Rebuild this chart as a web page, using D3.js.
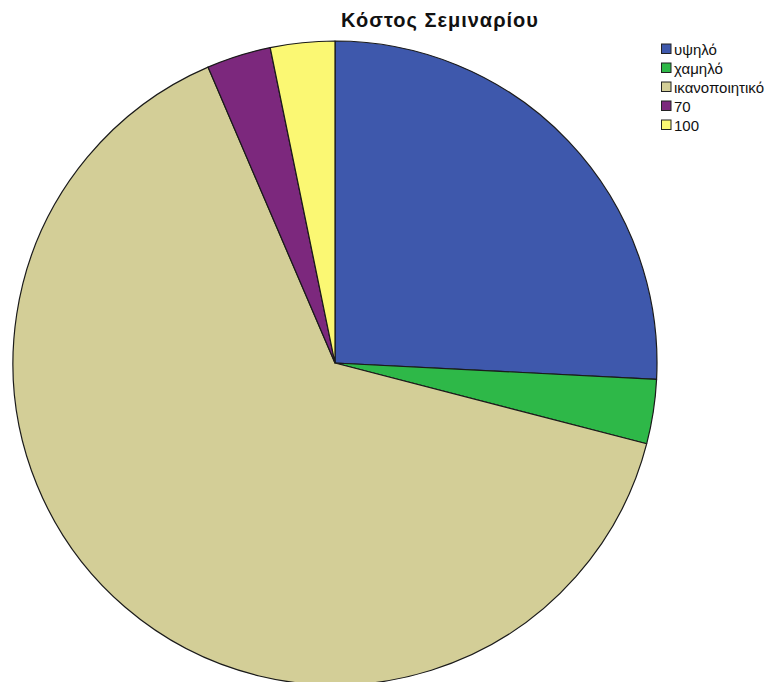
<!DOCTYPE html>
<html>
<head>
<meta charset="utf-8">
<script src="https://cdn.jsdelivr.net/npm/d3@7"></script>
<style>
  html, body { margin: 0; padding: 0; background: #ffffff; }
  svg { display: block; }
</style>
</head>
<body>
<svg id="chart" width="775" height="682"></svg>
<script>
// Responses on seminar cost (counts)
const categories = ["υψηλό", "χαμηλό", "ικανοποιητικό", "70", "100"];
const counts = [8, 1, 20, 1, 1];
const colors = ["#3e58ac", "#2eb848", "#d3ce97", "#7c287d", "#fbf873"];
const title = "Κόστος Σεμιναρίου";

const svg = d3.select("#chart");
const cx = 335, cy = 363, radius = 322;

const data = categories.map((c, i) => ({ category: c, count: counts[i] }));

const color = d3.scaleOrdinal().domain(categories).range(colors);

const pie = d3.pie()
  .value(d => d.count)
  .sort(null);

const arc = d3.arc().innerRadius(0).outerRadius(radius);

const g = svg.append("g").attr("transform", `translate(${cx},${cy})`);

g.selectAll("path.slice")
  .data(pie(data))
  .join("path")
  .attr("class", "slice")
  .attr("d", arc)
  .attr("fill", d => color(d.data.category))
  .attr("stroke", "#1a1a1a")
  .attr("stroke-width", 1.2)
  .attr("stroke-linejoin", "round");

svg.append("text")
  .attr("x", 440)
  .attr("y", 27)
  .attr("text-anchor", "middle")
  .attr("font-family", "Liberation Sans, Arial, sans-serif")
  .attr("font-weight", "bold")
  .attr("font-size", 20)
  .attr("letter-spacing", 1)
  .attr("fill", "#111")
  .text(title);

// Legend
const legend = svg.append("g").attr("transform", "translate(661,43.5)");
const rowH = 19;
const rows = legend.selectAll("g.row")
  .data(categories)
  .join("g")
  .attr("class", "row")
  .attr("transform", (d, i) => `translate(0,${i * rowH})`);

rows.append("rect")
  .attr("x", 0.5).attr("y", 0.5)
  .attr("width", 9.5).attr("height", 9.5)
  .attr("fill", d => color(d))
  .attr("stroke", "#222")
  .attr("stroke-width", 1);

rows.append("text")
  .attr("x", 13)
  .attr("y", 11)
  .attr("font-family", "Liberation Sans, Arial, sans-serif")
  .attr("font-size", 15)
  .attr("fill", "#111")
  .text(d => d);
</script>
</body>
</html>
